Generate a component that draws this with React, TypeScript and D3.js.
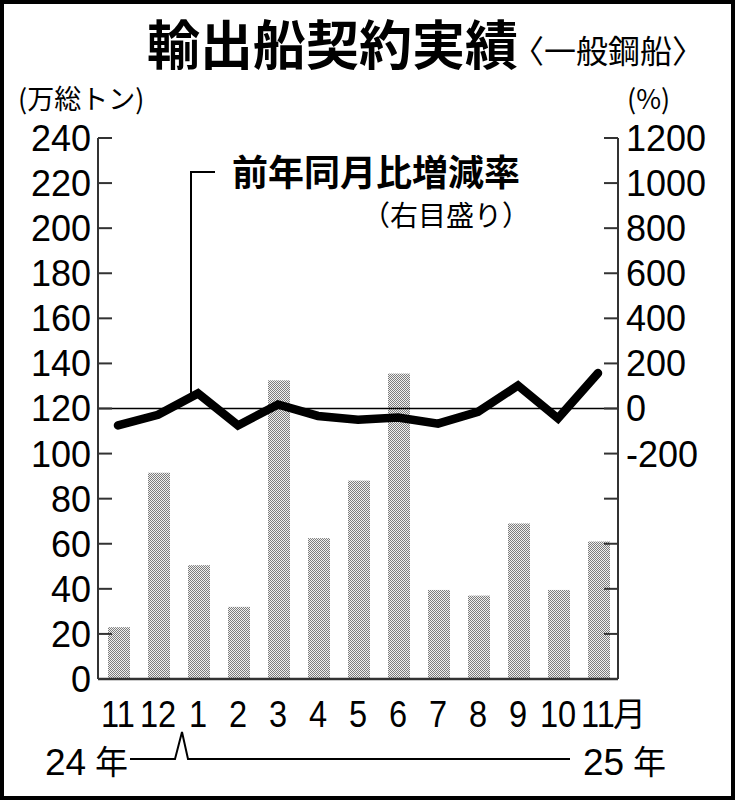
import React from "react";
import * as d3 from "d3";

const months = ["11", "12", "1", "2", "3", "4", "5", "6", "7", "8", "9", "10", "11"];
const tonnage = [23, 91.5, 50.5, 32, 132.5, 62.5, 88, 135.5, 39.5, 37, 69, 39.5, 61];
const yoy = [-75, -28, 67, -75, 18, -33, -50, -40, -67, -15, 102, -44, 157];
const leftTicks = [0, 20, 40, 60, 80, 100, 120, 140, 160, 180, 200, 220, 240];
const rightTicks = [-1200, -1000, -800, -600, -400, -200, 0, 200, 400, 600, 800, 1000, 1200];
const rightLabels = [-200, 0, 200, 400, 600, 800, 1000, 1200];

const W = 735;
const H = 800;
const M = { left: 98, right: 618, top: 138, bottom: 679 };
const NUM = "'Liberation Sans', Arial, sans-serif";
const CJK = "'Noto Sans CJK JP', sans-serif";

export default function App() {
  const x = d3.scaleBand<number>().domain(months.map((_, i) => i)).range([M.left, M.right]).padding(0);
  const yL = d3.scaleLinear().domain([0, 240]).range([M.bottom, M.top]);
  const yR = d3.scaleLinear().domain([-1200, 1200]).range([M.bottom, M.top]);
  const bw = x.bandwidth() * 0.55;
  const cx = (i: number) => (x(i) as number) + x.bandwidth() / 2;
  const line = d3.line<number>().x((_, i) => cx(i)).y((d) => yR(d));

  return (
    <div style={{ position: "absolute", left: 0, top: 0 }}>
      <svg width={W} height={H} style={{ display: "block" }}>
        <defs>
          <pattern id="dots" width="2" height="2" patternUnits="userSpaceOnUse">
            <rect width="2" height="2" fill="#f0f0f0" />
            <rect x="0" y="0" width="1" height="1" fill="#7c7c7c" />
            <rect x="1" y="1" width="1" height="1" fill="#7c7c7c" />
          </pattern>
        </defs>
        <rect x={0} y={0} width={W} height={H} fill="#fff" />
        <rect x={2} y={2} width={W - 4} height={H - 4} fill="none" stroke="#000" strokeWidth={4} />

        {/* title */}
        <text x={147} y={65} fontFamily={CJK} fontWeight={700} fontSize={53} fill="#000">輸出船契約実績</text>
        <text x={512} y={63} fontFamily={CJK} fontSize={32} fill="#000">〈一般鋼船〉</text>

        <text x={18} y={109} fontFamily={CJK} fontSize={27} fill="#000">(万総トン)</text>
        <text x={627} y={109} fontFamily={CJK} fontSize={27} fill="#000">(%)</text>

        {/* bars */}
        {tonnage.map((v, i) => (
          <rect key={i} x={cx(i) - bw / 2 + 1} y={yL(v)} width={bw} height={M.bottom - yL(v)} fill="url(#dots)" />
        ))}

        {/* zero line */}
        <line x1={M.left} x2={M.right} y1={yR(0)} y2={yR(0)} stroke="#000" strokeWidth={1.5} />

        {/* left axis */}
        <line x1={M.left} x2={M.left} y1={M.top} y2={M.bottom} stroke="#333" strokeWidth={2} />
        {leftTicks.map((t) => (
          <g key={t}>
            <line x1={M.left} x2={M.left + 14} y1={yL(t)} y2={yL(t)} stroke="#333" strokeWidth={2} />
            <text x={91} y={yL(t)} dy="0.36em" textAnchor="end" fontFamily={NUM} fontSize={36} fill="#000">{t}</text>
          </g>
        ))}

        {/* right axis */}
        <line x1={M.right} x2={M.right} y1={M.top} y2={M.bottom} stroke="#333" strokeWidth={2} />
        {rightTicks.map((t) => (
          <line key={t} x1={M.right - 14} x2={M.right} y1={yR(t)} y2={yR(t)} stroke="#333" strokeWidth={2} />
        ))}
        {rightLabels.map((t) => (
          <text key={t} x={626} y={yR(t)} dy="0.36em" fontFamily={NUM} fontSize={36} fill="#000">{t}</text>
        ))}

        {/* bottom axis */}
        <line x1={M.left} x2={M.right} y1={M.bottom} y2={M.bottom} stroke="#333" strokeWidth={2.5} />

        {/* line */}
        <path d={line(yoy) || ""} fill="none" stroke="#000" strokeWidth={8.5} strokeLinecap="round" strokeLinejoin="miter" />

        {/* annotation */}
        <path d={`M215,172 H191 V${yR(yoy[2]) + 2}`} fill="none" stroke="#000" strokeWidth={2} />
        <text x={232} y={186} fontFamily={CJK} fontWeight={700} fontSize={36} fill="#000">前年同月比増減率</text>
        <text x={530} y={226} textAnchor="end" fontFamily={CJK} fontSize={28} fill="#000">（右目盛り）</text>

        {/* x labels */}
        {months.map((m, i) => (
          <text key={i} x={cx(i)} y={727} textAnchor="middle" fontFamily={NUM} fontSize={37} fill="#000" transform={`translate(${cx(i)},0) scale(0.88,1) translate(${-cx(i)},0)`}>{m}</text>
        ))}
        <text x={cx(12) + 15} y={726} fontFamily={CJK} fontSize={33} fill="#000">月</text>

        {/* years */}
        <text x={45} y={775} fontFamily={NUM} fontSize={37} fill="#000">24</text>
        <text x={95} y={774} fontFamily={CJK} fontSize={33} fill="#000">年</text>
        <path d="M130,759 H175 L182,732 L188,759 H570" fill="none" stroke="#000" strokeWidth={2} />
        <text x={583} y={775} fontFamily={NUM} fontSize={37} fill="#000">25</text>
        <text x={633} y={774} fontFamily={CJK} fontSize={33} fill="#000">年</text>
      </svg>
    </div>
  );
}
